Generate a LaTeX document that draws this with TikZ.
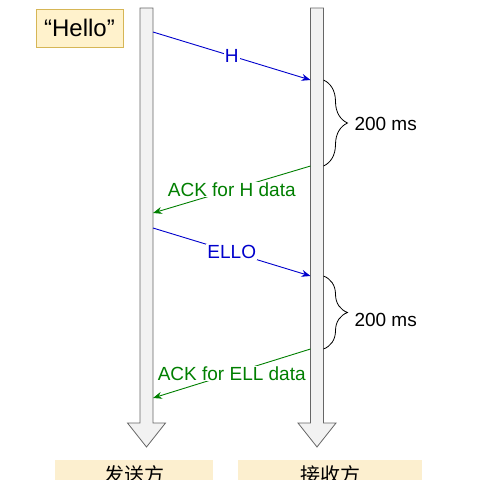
\documentclass[tikz,border=0pt]{standalone}
\usepackage{fontspec}
\setmainfont{Liberation Sans}
\newfontfamily\cjk{Noto Sans CJK SC}
\usetikzlibrary{arrows.meta,decorations.pathreplacing}
\definecolor{msgblue}{HTML}{0000CC}
\definecolor{ackgreen}{HTML}{007F00}
\definecolor{barfill}{HTML}{F2F2F2}
\definecolor{bargray}{HTML}{666666}
\definecolor{notefill}{HTML}{FFF2CC}
\definecolor{noteline}{HTML}{D6B656}
\definecolor{partyfill}{HTML}{FCEFCF}
\tikzset{
  lifeline/.style={draw=bargray, fill=barfill, line width=0.8pt, line join=miter},
  msg/.style={draw=msgblue, line width=0.9pt, -{Stealth[length=9pt,width=7pt]}},
  ack/.style={draw=ackgreen, line width=0.9pt, -{Stealth[length=9pt,width=7pt]}},
  lbl/.style={fill=white, inner sep=1pt, font=\fontsize{19}{22}\selectfont},
  waitbrace/.style={draw, line width=0.8pt, decorate,
    decoration={brace, amplitude=24pt, aspect=0.5}},
  party/.style={fill=partyfill, minimum height=30pt, inner sep=0pt,
    font=\cjk\fontsize{20}{24}\selectfont}
}
\begin{document}
\begin{tikzpicture}[x=1pt, y=-1pt]
  \useasboundingbox (0,0) rectangle (480,480);
  \clip (0,0) rectangle (480,480);

  % sender and receiver time lines
  \draw[lifeline] (140,8) -- (153,8) -- (153,423) -- (165.5,423)
    -- (146.5,447) -- (127.5,423) -- (140,423) -- cycle;
  \draw[lifeline] (310.5,8) -- (323.5,8) -- (323.5,423) -- (336,423)
    -- (317,447) -- (298,423) -- (310.5,423) -- cycle;

  \node[draw=noteline, fill=notefill, line width=0.8pt, minimum width=87pt,
    minimum height=38pt, font=\fontsize{24}{28}\selectfont] (hello) at (79.5,28) {“Hello”};

  \coordinate (h0) at (153,32);
  \coordinate (h1) at (310.5,80);
  \coordinate (a0) at (310.5,166);
  \coordinate (a1) at (153,213);
  \coordinate (e0) at (153,228);
  \coordinate (e1) at (310.5,276);
  \coordinate (b0) at (310.5,349);
  \coordinate (b1) at (153,398);

  \draw[msg] (h0) -- node[lbl, text=msgblue] (hlbl) {H} (h1);
  \draw[ack] (a0) -- node[lbl, text=ackgreen] (albl) {ACK for H data} (a1);
  \draw[msg] (e0) -- node[lbl, text=msgblue] (elbl) {ELLO} (e1);
  \draw[ack] (b0) -- node[lbl, text=ackgreen] (blbl) {ACK for ELL data} (b1);

  % delayed ack
  \coordinate (w0) at (323.5,80);
  \coordinate (w1) at (323.5,166);
  \coordinate (v0) at (323.5,276);
  \coordinate (v1) at (323.5,349);
  \draw[waitbrace] (w0) -- (w1);
  \draw[waitbrace] (v0) -- (v1);
  \node[anchor=west, font=\fontsize{19}{22}\selectfont] (wait1) at (351,124) {200 ms};
  \node[anchor=west, font=\fontsize{19}{22}\selectfont] (wait2) at (351,320) {200 ms};

  \node[party, minimum width=158pt] (snd) at (134,475) {发送方};
  \node[party, minimum width=184pt] (rcv) at (330,475) {接收方};
\end{tikzpicture}
\end{document}
